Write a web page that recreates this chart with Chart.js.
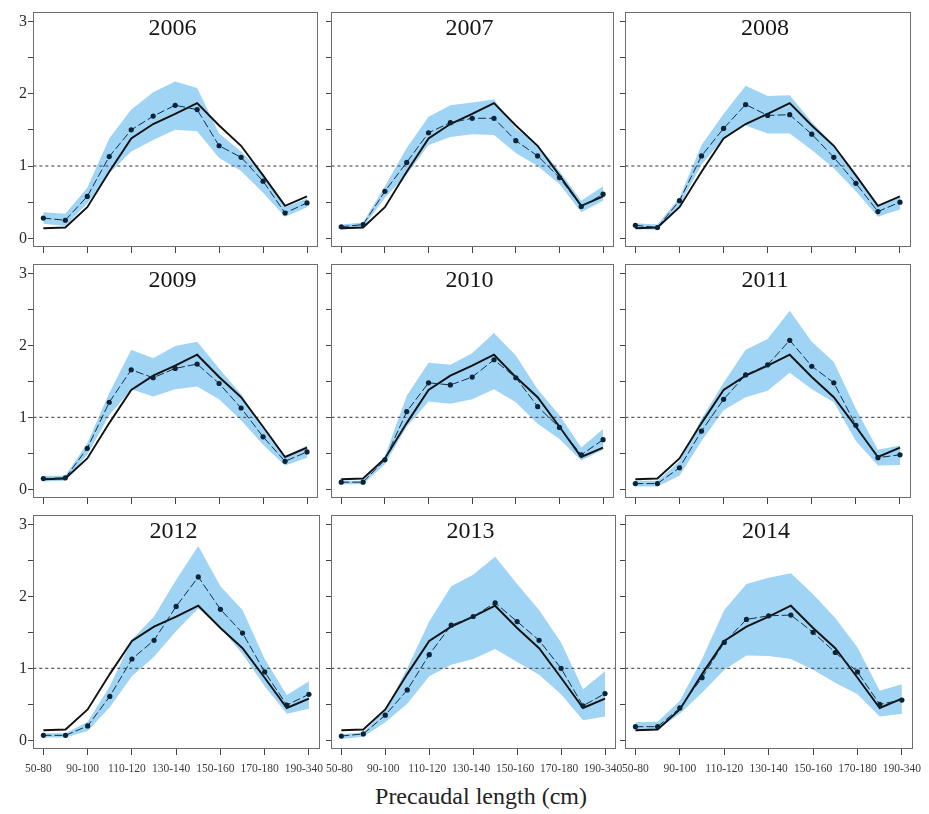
<!DOCTYPE html>
<html>
<head>
<meta charset="utf-8">
<script src="https://cdn.jsdelivr.net/npm/chart.js@4.4.1/dist/chart.umd.min.js"></script>
<style>
  html, body { margin: 0; padding: 0; background: #fff; }
  body { width: 929px; height: 814px; position: relative; overflow: hidden; }
  .panel { position: absolute; }
  #xtitle {
    position: absolute; left: 0; width: 962px; top: 783px;
    text-align: center; font: 24px "Liberation Serif", serif; color: #222;
  }
</style>
</head>
<body>
<div id="grid"></div>
<div id="xtitle">Precaudal length (cm)</div>

<script>
/* ---------- Data ---------- */
const sizeClasses = ['50-80', '80-90', '90-100', '100-110', '110-120', '120-130', '130-140',
  '140-150', '150-160', '160-170', '170-180', '180-190', '190-340'];
const years = ['2006', '2007', '2008', '2009', '2010', '2011', '2012', '2013', '2014'];
const xTickIdx = [0, 2, 4, 6, 8, 10, 12];
const yTicks = [0, 0.5, 1, 1.5, 2, 2.5, 3];

// solid line, same in every year
const expected = [0.14, 0.15, 0.43, 0.92, 1.38, 1.58, 1.72, 1.87, 1.56, 1.28, 0.87, 0.45, 0.58];

// dashed line with dots, one row per year
const observed = [
  [0.28, 0.25, 0.58, 1.13, 1.50, 1.69, 1.84, 1.78, 1.28, 1.12, 0.79, 0.35, 0.49],
  [0.16, 0.19, 0.65, 1.05, 1.46, 1.60, 1.66, 1.66, 1.35, 1.14, 0.84, 0.44, 0.61],
  [0.18, 0.15, 0.52, 1.14, 1.52, 1.85, 1.70, 1.71, 1.44, 1.12, 0.76, 0.37, 0.50],
  [0.15, 0.16, 0.57, 1.21, 1.66, 1.55, 1.68, 1.74, 1.47, 1.13, 0.73, 0.39, 0.52],
  [0.10, 0.10, 0.41, 1.08, 1.48, 1.45, 1.56, 1.80, 1.55, 1.15, 0.86, 0.48, 0.69],
  [0.08, 0.08, 0.30, 0.81, 1.25, 1.59, 1.73, 2.07, 1.71, 1.48, 0.89, 0.44, 0.48],
  [0.07, 0.07, 0.20, 0.61, 1.13, 1.39, 1.86, 2.27, 1.82, 1.49, 0.95, 0.49, 0.64],
  [0.06, 0.09, 0.35, 0.70, 1.19, 1.60, 1.72, 1.91, 1.65, 1.39, 1.00, 0.48, 0.65],
  [0.19, 0.19, 0.45, 0.87, 1.36, 1.68, 1.73, 1.74, 1.50, 1.22, 0.95, 0.50, 0.56]
];

// shaded band, lower and upper edge
const lower = [
  [0.20, 0.17, 0.48, 0.90, 1.20, 1.36, 1.50, 1.48, 1.11, 0.93, 0.63, 0.30, 0.43],
  [0.12, 0.15, 0.56, 0.88, 1.29, 1.40, 1.44, 1.43, 1.18, 1.00, 0.75, 0.36, 0.52],
  [0.13, 0.12, 0.45, 1.02, 1.38, 1.56, 1.45, 1.45, 1.22, 0.97, 0.65, 0.30, 0.40],
  [0.11, 0.12, 0.48, 1.03, 1.39, 1.29, 1.39, 1.43, 1.25, 0.96, 0.62, 0.33, 0.44],
  [0.07, 0.07, 0.35, 0.87, 1.22, 1.19, 1.25, 1.39, 1.21, 0.91, 0.70, 0.40, 0.55],
  [0.04, 0.04, 0.19, 0.67, 1.10, 1.28, 1.37, 1.62, 1.39, 1.21, 0.67, 0.33, 0.34],
  [0.04, 0.04, 0.13, 0.46, 0.89, 1.16, 1.52, 1.83, 1.56, 1.20, 0.75, 0.37, 0.44],
  [0.02, 0.05, 0.25, 0.51, 0.89, 1.05, 1.13, 1.27, 1.09, 0.91, 0.64, 0.28, 0.33],
  [0.15, 0.15, 0.37, 0.66, 0.98, 1.18, 1.17, 1.13, 0.98, 0.80, 0.64, 0.33, 0.37]
];
const upper = [
  [0.36, 0.34, 0.70, 1.38, 1.78, 2.02, 2.17, 2.08, 1.45, 1.20, 0.90, 0.43, 0.55],
  [0.19, 0.22, 0.72, 1.25, 1.68, 1.84, 1.88, 1.92, 1.52, 1.29, 0.93, 0.52, 0.72],
  [0.21, 0.19, 0.56, 1.29, 1.72, 2.11, 1.97, 1.98, 1.61, 1.29, 0.88, 0.45, 0.56],
  [0.19, 0.19, 0.64, 1.34, 1.94, 1.82, 1.99, 2.05, 1.68, 1.32, 0.85, 0.46, 0.61],
  [0.12, 0.12, 0.46, 1.30, 1.76, 1.73, 1.89, 2.17, 1.86, 1.39, 1.03, 0.58, 0.84],
  [0.12, 0.12, 0.39, 0.98, 1.48, 1.94, 2.09, 2.48, 2.05, 1.77, 1.12, 0.55, 0.61],
  [0.10, 0.10, 0.26, 0.75, 1.40, 1.72, 2.23, 2.70, 2.14, 1.81, 1.13, 0.63, 0.82],
  [0.09, 0.11, 0.42, 1.00, 1.65, 2.14, 2.30, 2.55, 2.17, 1.81, 1.36, 0.71, 0.96],
  [0.25, 0.26, 0.55, 1.13, 1.81, 2.17, 2.26, 2.32, 2.03, 1.70, 1.29, 0.69, 0.78]
];

/* ---------- Layout ---------- */
const colBoxes = [[33, 320], [331, 616], [625, 913]];
const rowBoxes = [[8, 247], [260, 498], [511, 749]];
const labelShift = [-5, -2, 0];
const Y_AXIS_W = 33;
const SERIF = '"Liberation Serif", "Times New Roman", serif';

const toXY = (arr) => arr.map((v, i) => ({ x: i, y: v }));

/* ---------- Plugins ---------- */
const frameAndTitle = {
  id: 'frameAndTitle',
  afterDatasetsDraw(chart, args, opts) {
    const { ctx, chartArea: a } = chart;
    ctx.save();
    ctx.strokeStyle = '#6d6d6d';
    ctx.lineWidth = 1;
    ctx.strokeRect(a.left + 0.5, a.top + 0.5, a.right - a.left - 1, a.bottom - a.top - 1);
    ctx.fillStyle = '#151515';
    ctx.font = '24px ' + SERIF;
    ctx.textAlign = 'center';
    ctx.textBaseline = 'middle';
    ctx.fillText(opts.text, (a.left + a.right) / 2 - 3, a.top + 17);
    ctx.restore();
  }
};

/* ---------- Build panels ---------- */
const grid = document.getElementById('grid');

years.forEach((year, k) => {
  const row = Math.floor(k / 3);
  const col = k % 3;
  const [bl, br] = colBoxes[col];
  const [bt, bb] = rowBoxes[row];
  const bottomRow = row === 2;
  const xAxisH = bottomRow ? 34 : 10;
  const padRight = bottomRow ? 16 : 2;

  const w = (br - bl) + Y_AXIS_W + padRight;
  const h = (bb - bt) + xAxisH;

  const wrap = document.createElement('div');
  wrap.className = 'panel';
  wrap.style.left = (bl - Y_AXIS_W) + 'px';
  wrap.style.top = bt + 'px';
  wrap.style.width = w + 'px';
  wrap.style.height = h + 'px';
  const canvas = document.createElement('canvas');
  wrap.appendChild(canvas);
  grid.appendChild(wrap);

  new Chart(canvas, {
    type: 'line',
    data: {
      datasets: [
        {
          label: 'observed',
          data: toXY(observed[k]),
          borderColor: '#123049',
          borderWidth: 1,
          borderDash: [8, 3],
          pointRadius: 2.6,
          pointBackgroundColor: '#0c2236',
          pointBorderWidth: 0,
          tension: 0
        },
        {
          label: 'expected',
          data: toXY(expected),
          borderColor: '#111',
          borderWidth: 1.9,
          pointRadius: 0,
          tension: 0
        },
        {
          label: 'one',
          data: [{ x: -1, y: 1 }, { x: 13, y: 1 }],
          borderColor: '#555',
          borderWidth: 1.2,
          borderDash: [3, 3],
          pointRadius: 0
        },
        {
          label: 'upper',
          data: toXY(upper[k]),
          borderWidth: 0,
          borderColor: 'rgba(0,0,0,0)',
          backgroundColor: '#9fd4f5',
          fill: '+1',
          pointRadius: 0,
          tension: 0
        },
        {
          label: 'lower',
          data: toXY(lower[k]),
          borderWidth: 0,
          borderColor: 'rgba(0,0,0,0)',
          pointRadius: 0,
          fill: false,
          tension: 0
        }
      ]
    },
    options: {
      responsive: true,
      maintainAspectRatio: false,
      animation: false,
      events: [],
      layout: { padding: { top: 0, right: padRight, left: 0, bottom: 0 } },
      plugins: {
        legend: { display: false },
        tooltip: { enabled: false },
        frameAndTitle: { text: year }
      },
      scales: {
        x: {
          type: 'linear',
          min: -0.47,
          max: 12.5,
          afterBuildTicks: (s) => { s.ticks = xTickIdx.map((v) => ({ value: v })); },
          afterFit: (s) => { s.height = xAxisH; s.paddingLeft = 0; s.paddingRight = 0; },
          border: { display: false },
          grid: { drawOnChartArea: false, drawTicks: true, tickLength: 6, tickColor: '#444', tickWidth: 1 },
          ticks: {
            display: bottomRow,
            autoSkip: false,
            maxRotation: 0,
            padding: 7,
            labelOffset: labelShift[col],
            color: '#3a3a3a',
            font: { family: SERIF, size: 11.5 },
            callback: (v) => sizeClasses[v]
          }
        },
        y: {
          type: 'linear',
          min: -0.12,
          max: 3.13,
          afterBuildTicks: (s) => { s.ticks = yTicks.map((v) => ({ value: v })); },
          afterFit: (s) => { s.width = Y_AXIS_W; s.paddingTop = 0; s.paddingBottom = 0; },
          border: { display: false },
          grid: { drawOnChartArea: false, drawTicks: true, tickLength: 5, tickColor: '#444', tickWidth: 1 },
          ticks: {
            padding: 1,
            color: '#2a2a2a',
            font: { family: SERIF, size: 16 },
            callback: (v) => (col === 0 && Number.isInteger(v) ? String(v) : '')
          }
        }
      }
    },
    plugins: [frameAndTitle]
  });
});
</script>
</body>
</html>
